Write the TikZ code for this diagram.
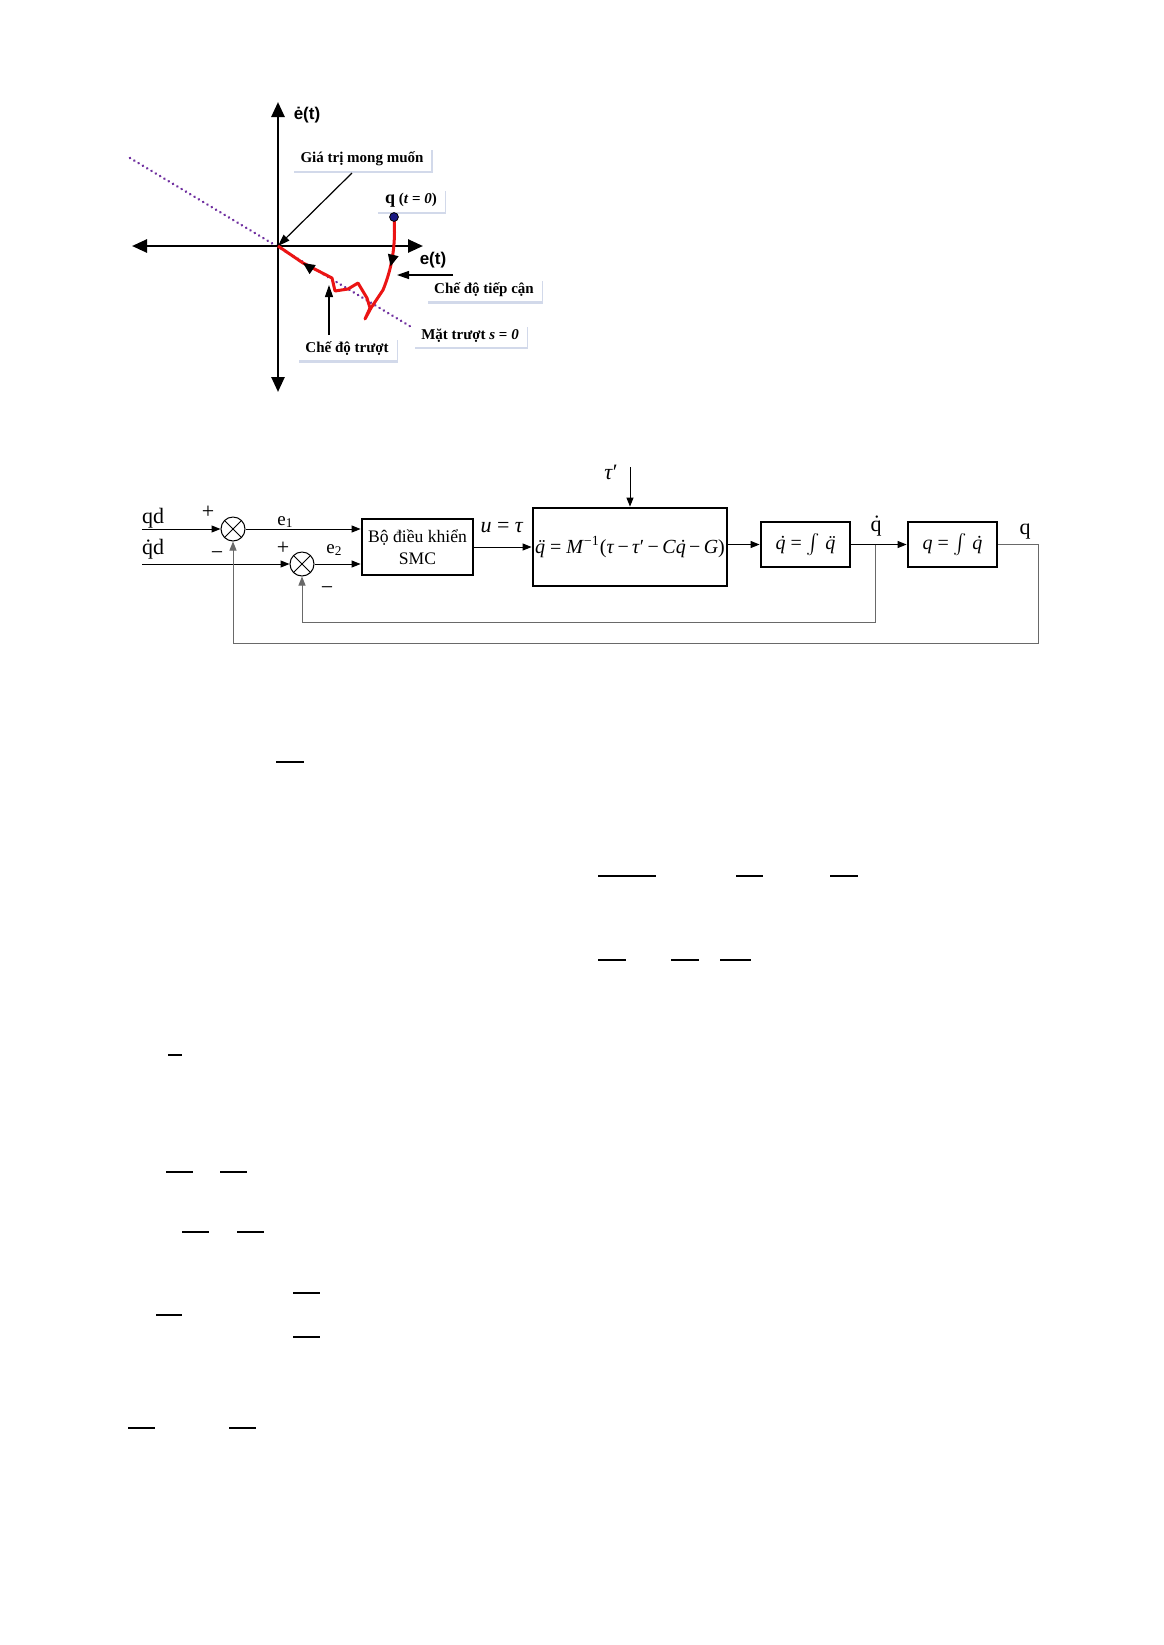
\documentclass[tikz,border=0pt]{standalone}
\usepackage{fontspec}
\setmainfont{Liberation Serif}
\newfontfamily\axisfont{Liberation Sans}
\usetikzlibrary{positioning, arrows.meta, calc, shadows, decorations.markings}
\definecolor{slidepurple}{RGB}{112, 48, 160}
\definecolor{trajred}{RGB}{235, 20, 20}
\definecolor{dotblue}{RGB}{25, 25, 130}
\definecolor{fbgray}{RGB}{105, 105, 105}
\definecolor{tagshadow}{RGB}{210, 217, 234}
% italic q with a dot / two dots on top
\newcommand{\qdt}{\ooalign{\textit{q}\cr\hidewidth\kern0.1em\textit{˙}\hidewidth\cr}}
\newcommand{\qddt}{\ooalign{\textit{q}\cr\hidewidth\kern0.1em\textit{¨}\hidewidth\cr}}

\begin{document}
\begin{tikzpicture}[x=0.5pt, y=-0.5pt,
    axisline/.style={line width=1.3pt, {Triangle[length=7.5pt, width=6.5pt]}-{Triangle[length=7.5pt, width=6.5pt]}},
    slidedots/.style={draw=slidepurple, line width=1.4pt, line cap=round, dash pattern=on 0.01pt off 2.5pt},
    labbox/.style={fill=white, font=\fontsize{7.5}{9}\selectfont\bfseries, inner xsep=4pt, inner ysep=2.2pt,
                   drop shadow={shadow xshift=0.7pt, shadow yshift=-1.1pt, fill=tagshadow, opacity=1}},
    pointer/.style={-{Triangle[length=6pt, width=4pt]}, line width=0.6pt},
    traj/.style={draw=trajred, line width=1.5pt, line join=round},
    blk/.style={draw, line width=1.4pt, align=center, inner sep=0pt},
    sumnode/.style={circle, draw, line width=0.5pt, minimum size=12pt, inner sep=0pt,
                    path picture={\draw[line width=0.5pt]
                      (path picture bounding box.north west) -- (path picture bounding box.south east)
                      (path picture bounding box.north east) -- (path picture bounding box.south west);}},
    sig/.style={-{Triangle[length=4.5pt, width=3.5pt]}, line width=0.5pt},
    fb/.style={sig, draw=fbgray},
    lbl/.style={inner sep=0pt, font=\fontsize{11}{13}\selectfont},
    fracbar/.style={line width=0.8pt}]
  \useasboundingbox (0,0) rectangle (1163,1645);
  \fill[white] (0,0) rectangle (1163,1645);

  % phase plane
  \coordinate (O) at (278,246);
  \coordinate (xl) at (132,246);
  \coordinate (xr) at (423,246);
  \coordinate (yt) at (278,102);
  \coordinate (yb) at (278,392);
  \coordinate (sl1) at (130,158);
  \coordinate (sl2) at (413,328);
  \draw[slidedots] (sl1) -- (sl2);
  \draw[axisline] (xl) -- (xr);
  \draw[axisline] (yt) -- (yb);
  \node[font=\axisfont\bfseries\fontsize{8.5}{9}\selectfont] (edot) at (307,115) {ė(t)};
  \node[font=\axisfont\bfseries\fontsize{8.5}{9}\selectfont] (ee) at (433,260) {e(t)};

  \node[labbox] (goal) at (362,159) {Giá trị mong muốn};
  \node[labbox] (start) at (411,200) {{\fontsize{9}{9}\selectfont q} (\textit{t} = \textit{0})};
  \node[labbox] (reach) at (484,290) {Chế độ tiếp cận};
  \node[labbox] (slide) at (347,349) {Chế độ trượt};
  \node[labbox] (surf) at (470,336) {Mặt trượt \textit{s} = \textit{0}};

  \coordinate (goaltail) at (352,173);
  \coordinate (reachtail) at (453,275);
  \coordinate (reachtip) at (397,275);
  \coordinate (slidetail) at (329,335);
  \coordinate (slidetip) at (329,285);
  \draw[pointer] (goaltail) -- (O);
  \draw[pointer] (reachtail) -- (reachtip);
  \draw[pointer] (slidetail) -- (slidetip);

  \coordinate (q0) at (394,217);
  \draw[traj, postaction={decorate}, decoration={markings,
      mark=at position 0.2 with {\arrow[black]{Triangle[length=6pt, width=5pt]}},
      mark=at position 0.88 with {\arrow[black]{Triangle[length=6pt, width=5pt]}}}]
    (q0) .. controls (396,245) and (392,268) .. (383,290) -- (371,308) -- (365,319)
    -- (370,308) -- (367,298) -- (358,283) -- (348,289) -- (335,291) -- (332,278)
    -- (303,263) -- (O);
  \filldraw[fill=dotblue, draw=black, line width=0.4pt] (q0) circle (2.2pt);

  % block diagram
  \node[sumnode] (s1) at (233,529) {};
  \node[sumnode] (s2) at (302,564) {};
  \node[blk, minimum width=55.5pt, minimum height=28pt, font=\fontsize{8.8}{11}\selectfont] (smc) at (417.5,547) {Bộ điều khiển\\SMC};
  \node[blk, minimum width=97pt, minimum height=39pt, font=\fontsize{10}{12}\selectfont] (plant) at (630,547)
    {\qddt{} = \textit{M}\textsuperscript{−1}(\textit{τ}\,−\,\textit{τ}′\,−\,\textit{C}\qdt\,−\,\textit{G})};
  \node[blk, minimum width=44.5pt, minimum height=22.5pt, font=\fontsize{10}{12}\selectfont] (int1) at (805.5,544.5)
    {\qdt{} = $\int$ \qddt};
  \node[blk, minimum width=44.5pt, minimum height=22.5pt, font=\fontsize{10}{12}\selectfont] (int2) at (952.5,544.5)
    {\textit{q} = $\int$ \qdt};

  \node[lbl] (qdlab) at (153,518) {qd};
  \node[lbl] (qddlab) at (153,549) {\.{q}d};
  \node[lbl] (plus1) at (208,512) {+};
  \node[lbl] (minus1) at (217,556) {−};
  \node[lbl] (plus2) at (283,548) {+};
  \node[lbl] (minus2) at (327,591) {−};
  \node[lbl, anchor=west, font=\fontsize{9.5}{11}\selectfont] (e1) at (277,522) {e\textsubscript{1}};
  \node[lbl, anchor=west, font=\fontsize{9.5}{11}\selectfont] (e2) at (326,550) {e\textsubscript{2}};
  \node[lbl] (ulab) at (502,528) {\textit{u} = \textit{τ}};
  \node[lbl] (tauq) at (611,472) {\textit{τ}′};
  \node[lbl] (qdotlab) at (876,526) {\.{q}};
  \node[lbl] (qlab) at (1025,532) {q};

  \coordinate (qdin) at (142,529);
  \coordinate (qddin) at (142,564);
  \coordinate (tauin) at (630,467);
  \coordinate (br) at (875,544.5);
  \coordinate (qout) at (1038,544.5);
  \coordinate (fbo) at (1038,643);
  \coordinate (fbi) at (875,622);

  \draw[sig] (qdin) -- (s1.west);
  \draw[sig] (qddin) -- (s2.west);
  \draw[sig] (s1.east) -- (s1.east -| smc.west);
  \draw[sig] (s2.east) -- (s2.east -| smc.west);
  \draw[sig] (smc.east) -- (plant.west);
  \draw[sig] (tauin) -- (plant.north);
  \draw[sig] (plant.east |- int1.west) -- (int1.west);
  \draw[line width=0.5pt] (int1.east) -- (br);
  \draw[sig] (br) -- (int2.west);
  \draw[fb] (int2.east) -- (qout) |- (s1.south |- fbo) -- (s1.south);
  \draw[fb] (br) |- (s2.south |- fbi) -- (s2.south);

  % bars left from the equations below
  \foreach \xa/\xb/\yy in {276/304/762, 598/656/876, 736/763/876, 830/858/876,
                           598/626/960, 671/699/960, 720/751/960, 168/182/1055,
                           166/193/1172, 220/247/1172, 182/209/1232, 237/264/1232,
                           293/320/1293, 156/182/1315, 293/320/1337, 128/155/1428, 229/256/1428}
    \draw[fracbar] (\xa,\yy) -- (\xb,\yy);
\end{tikzpicture}
\end{document}
